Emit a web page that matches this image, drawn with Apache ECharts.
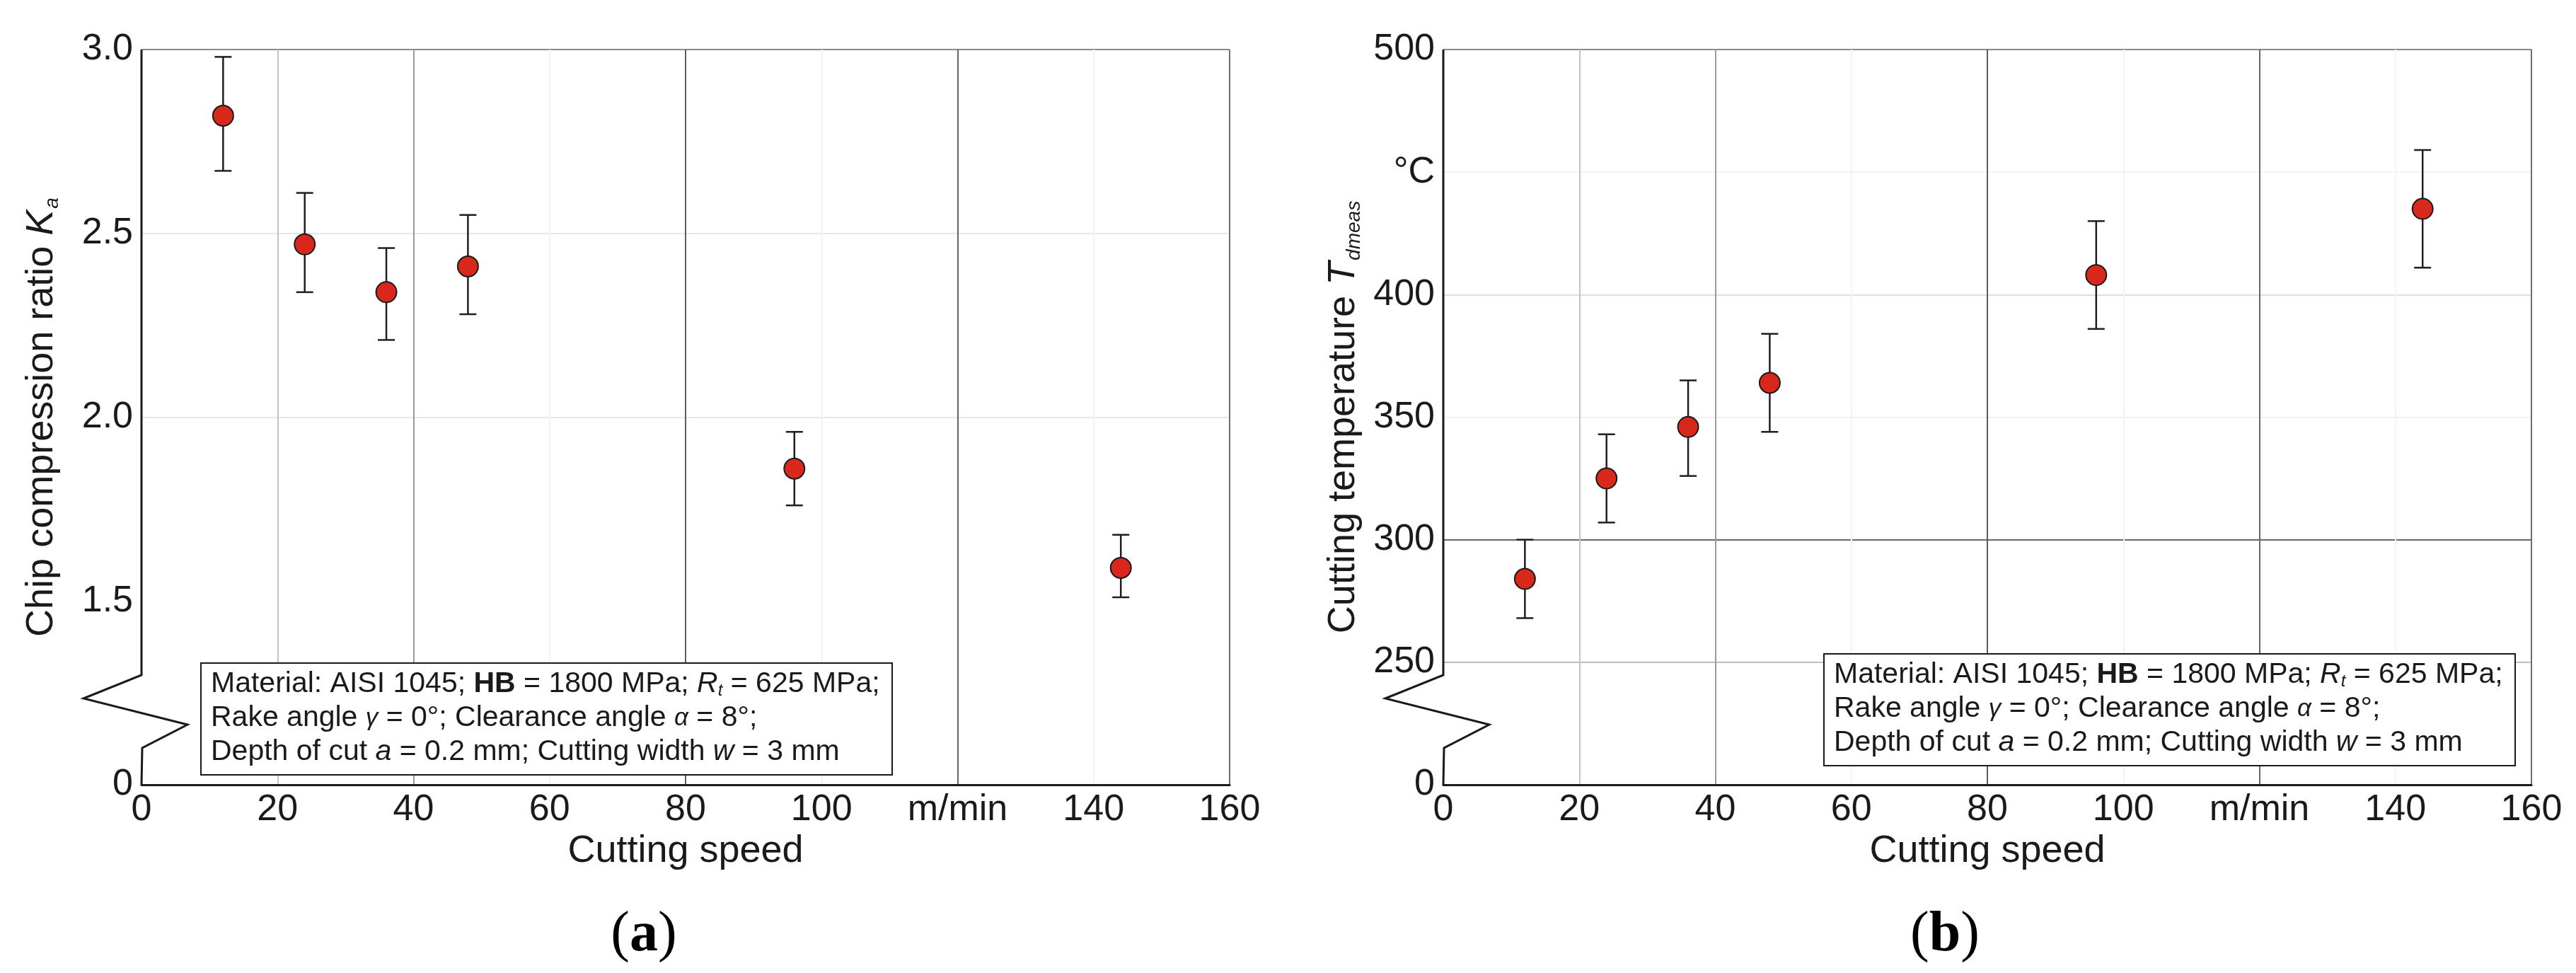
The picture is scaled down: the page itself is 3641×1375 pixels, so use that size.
<!DOCTYPE html>
<html>
<head>
<meta charset="utf-8">
<title>Chip compression ratio and cutting temperature vs cutting speed</title>
<script src="https://cdn.jsdelivr.net/npm/echarts@6.0.0/dist/echarts.min.js"></script>
<style>
  html, body { margin: 0; padding: 0; background: #fff; }
  #chart { width: 3641px; height: 1375px; }
</style>
</head>
<body>
<div id="chart"></div>
<script>
// cutting speed, m/min
const speed = [12, 24, 36, 48, 96, 144];

// (a) chip compression ratio Ka, mean with error bar ends
const ratioMean = [2.82, 2.47, 2.34, 2.41, 1.86, 1.59];
const ratioLow = [2.67, 2.34, 2.21, 2.28, 1.76, 1.51];
const ratioHigh = [2.98, 2.61, 2.46, 2.55, 1.96, 1.68];

// (b) cutting temperature, °C
const tempMean = [284, 325, 346, 364, 408, 435];
const tempLow = [268, 307, 326, 344, 386, 411];
const tempHigh = [300, 343, 365, 384, 430, 459];

// axis ranges [min, max, interval]; y axes are broken, bottom is labelled 0
const speedRange = [0, 160, 20];
const ratioRange = [1, 3, 0.5];
const tempRange = [200, 500, 50];
const speedUnitTick = 120;  // this tick shows the unit instead
const tempUnitTick = 450;

const noteText = [
  'Material: AISI 1045; {b|HB} = 1800 MPa; {i|R}{sub|t} = 625 MPa;',
  'Rake angle {g|γ} = 0°; Clearance angle {g|α} = 8°;',
  'Depth of cut {i|a} = 0.2 mm; Cutting width {i|w} = 3 mm'
].join('\n');

const SANS = 'Liberation Sans, Arial, Helvetica, sans-serif';
const SERIF = 'Liberation Serif, Times New Roman, serif';
const INK = '#1a1a1a';

function points(ys) {
  return speed.map((x, i) => [x, ys[i]]);
}
function bars(lo, hi) {
  return speed.map((x, i) => [x, lo[i], hi[i]]);
}

function errorBar(params, api) {
  const x = api.value(0);
  const lo = api.coord([x, api.value(1)]);
  const hi = api.coord([x, api.value(2)]);
  const half = 12;
  const style = { stroke: '#1f1f1f', lineWidth: 2.5 };
  return {
    type: 'group',
    children: [
      { type: 'line', shape: { x1: hi[0], y1: hi[1], x2: lo[0], y2: lo[1] }, style: style },
      { type: 'line', shape: { x1: hi[0] - half, y1: hi[1], x2: hi[0] + half, y2: hi[1] }, style: style },
      { type: 'line', shape: { x1: lo[0] - half, y1: lo[1], x2: lo[0] + half, y2: lo[1] }, style: style }
    ]
  };
}

// left axis line with the zigzag break near the bottom
function brokenAxis(params, api) {
  const top = api.coord([api.value(0), api.value(2)]);
  const bot = api.coord([api.value(0), api.value(1)]);
  const x = top[0];
  const y = bot[1];
  return {
    type: 'polyline',
    shape: {
      points: [[x, top[1]], [x, y - 155], [x - 82, y - 122], [x + 65, y - 85], [x + 1, y - 52], [x, y]]
    },
    style: { stroke: INK, lineWidth: 3, fill: null }
  };
}

function xAxisOf(gridIndex) {
  return {
    type: 'value',
    gridIndex: gridIndex,
    min: speedRange[0],
    max: speedRange[1],
    interval: speedRange[2],
    name: 'Cutting speed',
    nameLocation: 'middle',
    nameGap: 56,
    nameTextStyle: { fontFamily: SANS, fontSize: 54, color: INK },
    axisLine: { lineStyle: { color: INK, width: 3 } },
    axisTick: { show: false },
    axisLabel: {
      fontFamily: SANS, fontSize: 52, color: INK, margin: 10,
      formatter: v => (v === speedUnitTick ? 'm/min' : String(v))
    },
    splitLine: {
      show: true,
      lineStyle: {
        width: 2,
        color: ['rgba(0,0,0,0)', '#c4c4c4', '#9a9a9a', '#f3f3f3', '#5c5c5c',
          '#f3f3f3', '#666666', '#f5f5f5', '#6e6e6e']
      }
    }
  };
}

function yAxisOf(gridIndex, range, name, unitTick, digits, colors) {
  return {
    type: 'value',
    gridIndex: gridIndex,
    min: range[0],
    max: range[1],
    interval: range[2],
    name: name,
    nameLocation: 'middle',
    nameRotate: 90,
    nameGap: 112,
    nameTextStyle: {
      fontFamily: SANS, fontSize: 54, color: INK,
      rich: {
        i: { fontFamily: SANS, fontSize: 54, fontStyle: 'italic', color: INK },
        sub: { fontFamily: SANS, fontSize: 28, fontStyle: 'italic', color: INK, padding: [30, 0, 0, 2] }
      }
    },
    axisLine: { show: false },
    axisTick: { show: false },
    axisLabel: {
      fontFamily: SANS, fontSize: 52, color: INK, margin: 12,
      formatter: v => {
        if (v === range[0]) return '0';
        if (v === unitTick) return '°C';
        return v.toFixed(digits);
      }
    },
    splitLine: { show: true, lineStyle: { width: 2, color: colors } }
  };
}

function noteBox(x, y) {
  return [
    {
      type: 'rect',
      z: 10,
      shape: { x: x, y: y, width: 977, height: 158 },
      style: { fill: '#fff', stroke: INK, lineWidth: 2 }
    },
    {
      type: 'text',
      z: 11,
      x: x + 14,
      y: y + 6,
      style: {
        text: noteText,
        fontFamily: SANS,
        fontSize: 41,
        lineHeight: 48,
        fill: INK,
        rich: {
          b: { fontFamily: SANS, fontSize: 41, fontWeight: 'bold', fill: INK },
          i: { fontFamily: SANS, fontSize: 41, fontStyle: 'italic', fill: INK },
          g: { fontFamily: SANS, fontSize: 35, fontStyle: 'italic', fill: INK },
          sub: { fontFamily: SANS, fontSize: 24, fontStyle: 'italic', fill: INK, padding: [18, 0, 0, 0] }
        }
      }
    }
  ];
}

function panelLabel(x, letter) {
  return {
    type: 'text',
    x: x,
    y: 1322,
    style: {
      text: '({b|' + letter + '})',
      fontFamily: SERIF,
      fontSize: 80,
      fill: '#000',
      align: 'center',
      verticalAlign: 'middle',
      rich: { b: { fontFamily: SERIF, fontSize: 80, fontWeight: 'bold', fill: '#000' } }
    }
  };
}

const chart = echarts.init(document.getElementById('chart'));

chart.setOption({
  animation: false,
  backgroundColor: '#fff',
  grid: [
    { left: 200, top: 70, width: 1538, height: 1039, outerBoundsMode: 'none' },
    { left: 2040, top: 70, width: 1538, height: 1039, outerBoundsMode: 'none' }
  ],
  xAxis: [xAxisOf(0), xAxisOf(1)],
  yAxis: [
    yAxisOf(0, ratioRange, 'Chip compression ratio {i|K}{sub|a}', null, 1,
      ['rgba(0,0,0,0)', 'rgba(0,0,0,0)', '#e6e6e6', '#e6e6e6', '#8a8a8a']),
    yAxisOf(1, tempRange, 'Cutting temperature {i|T}{sub|dmeas}', tempUnitTick, 0,
      ['rgba(0,0,0,0)', '#bdbdbd', '#666666', '#f2f2f2', '#dedede', '#f3f3f3', '#8a8a8a'])
  ],
  series: [
    {
      type: 'custom', xAxisIndex: 0, yAxisIndex: 0, silent: true,
      renderItem: brokenAxis, data: [[speedRange[0], ratioRange[0], ratioRange[1]]]
    },
    {
      type: 'custom', xAxisIndex: 1, yAxisIndex: 1, silent: true,
      renderItem: brokenAxis, data: [[speedRange[0], tempRange[0], tempRange[1]]]
    },
    {
      name: 'Ka error', type: 'custom', xAxisIndex: 0, yAxisIndex: 0, z: 3,
      renderItem: errorBar, data: bars(ratioLow, ratioHigh)
    },
    {
      name: 'T error', type: 'custom', xAxisIndex: 1, yAxisIndex: 1, z: 3,
      renderItem: errorBar, data: bars(tempLow, tempHigh)
    },
    {
      name: 'Ka', type: 'scatter', xAxisIndex: 0, yAxisIndex: 0, z: 4,
      symbol: 'circle', symbolSize: 29,
      itemStyle: { color: '#d8281c', borderColor: '#1a1a1a', borderWidth: 2, opacity: 1 },
      data: points(ratioMean)
    },
    {
      name: 'T', type: 'scatter', xAxisIndex: 1, yAxisIndex: 1, z: 4,
      symbol: 'circle', symbolSize: 29,
      itemStyle: { color: '#d8281c', borderColor: '#1a1a1a', borderWidth: 2, opacity: 1 },
      data: points(tempMean)
    }
  ],
  graphic: [].concat(
    noteBox(284, 937),
    noteBox(2578, 924),
    [panelLabel(910, 'a'), panelLabel(2749, 'b')]
  )
});
</script>
</body>
</html>
